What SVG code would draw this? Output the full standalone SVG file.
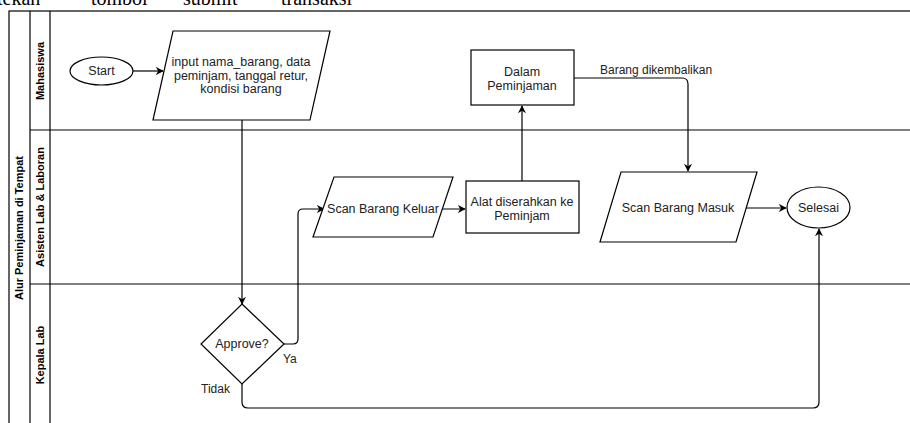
<svg xmlns="http://www.w3.org/2000/svg" width="910" height="423" viewBox="0 0 910 423">
  <style>
    .shape { fill: #fff; stroke: #000; stroke-width: 1.2; }
    .lane { fill: none; stroke: #000; stroke-width: 1.2; }
    .edge { fill: none; stroke: #000; stroke-width: 1.2; }
    .txt { font-family: "Liberation Sans", Arial, sans-serif; font-size: 12.5px; fill: #222; text-anchor: middle; }
    .lbl { font-family: "Liberation Sans", Arial, sans-serif; font-size: 12px; fill: #222; }
    .head { font-family: "Liberation Sans", Arial, sans-serif; font-size: 11px; font-weight: bold; fill: #000; text-anchor: middle; }
    .body { font-family: "Liberation Serif", "Times New Roman", serif; font-size: 20px; fill: #000; }
  </style>
  <defs>
    <marker id="arrow" viewBox="0 0 10 10" refX="9" refY="5" markerWidth="8" markerHeight="8" markerUnits="userSpaceOnUse" orient="auto">
      <path d="M0,0 L10,5 L0,10 L3,5 Z" fill="#000"/>
    </marker>
  </defs>

  <rect width="910" height="423" fill="#fff"/>

  <!-- running text line above the figure -->
  <text class="body" x="-3" y="5">tekan</text>
  <text class="body" x="91" y="5">tombol</text>
  <text class="body" x="183" y="5">submit</text>
  <text class="body" x="281" y="5">transaksi</text>

  <!-- swimlane frame -->
  <g id="pool">
    <rect class="lane" x="9" y="11" width="910" height="440"/>
    <line class="lane" x1="30" y1="11" x2="30" y2="451"/>
    <line class="lane" x1="50" y1="11" x2="50" y2="451"/>
    <line class="lane" x1="30" y1="130" x2="910" y2="130"/>
    <line class="lane" x1="30" y1="284" x2="910" y2="284"/>
    <text class="head" transform="translate(23,228) rotate(-90)">Alur Peminjaman di Tempat</text>
    <text class="head" transform="translate(44,71) rotate(-90)">Mahasiswa</text>
    <text class="head" transform="translate(44,207) rotate(-90)">Asisten Lab &amp; Laboran</text>
    <text class="head" transform="translate(44,355) rotate(-90)">Kepala Lab</text>
  </g>

  <!-- connectors -->
  <g id="edges">
    <path class="edge" d="M133,71 H163" marker-end="url(#arrow)"/>
    <path class="edge" d="M242,120 V304" marker-end="url(#arrow)"/>
    <path class="edge" d="M284,344 H293 Q298,344 298,339 V214 Q298,209 303,209 H324" marker-end="url(#arrow)"/>
    <path class="edge" d="M432,209 H465" marker-end="url(#arrow)"/>
    <path class="edge" d="M522,181 V106" marker-end="url(#arrow)"/>
    <path class="edge" d="M574,78 H682 Q688,78 688,84 V171" marker-end="url(#arrow)"/>
    <path class="edge" d="M746,208 H786" marker-end="url(#arrow)"/>
    <path class="edge" d="M242,384 V402 Q242,408 248,408 H813 Q819,408 819,402 V229" marker-end="url(#arrow)"/>
    <text class="lbl" x="283" y="363">Ya</text>
    <text class="lbl" x="201" y="393">Tidak</text>
    <text class="lbl" x="600" y="74">Barang dikembalikan</text>
  </g>

  <g id="start">
    <ellipse class="shape" cx="101.5" cy="71" rx="31.5" ry="14"/>
    <text class="txt" x="101.5" y="75">Start</text>
  </g>

  <g id="input-data">
    <polygon class="shape" points="173,31 330,31 310,120 153,120"/>
    <text class="txt" x="241" y="66">input nama_barang, data</text>
    <text class="txt" x="241" y="79.5">peminjam, tanggal retur,</text>
    <text class="txt" x="241" y="93">kondisi barang</text>
  </g>

  <g id="approve">
    <polygon class="shape" points="242,304 284,344 242,384 201,344"/>
    <text class="txt" x="242" y="348">Approve?</text>
  </g>

  <g id="scan-keluar">
    <polygon class="shape" points="334,177 453,177 433,237 313,237"/>
    <text class="txt" x="383" y="213">Scan Barang Keluar</text>
  </g>

  <g id="alat-diserahkan">
    <rect class="shape" x="466" y="181" width="113" height="52"/>
    <text class="txt" x="522" y="206">Alat diserahkan ke</text>
    <text class="txt" x="522" y="220">Peminjam</text>
  </g>

  <g id="dalam-peminjaman">
    <rect class="shape" x="471" y="50" width="103" height="55"/>
    <text class="txt" x="522" y="76">Dalam</text>
    <text class="txt" x="522" y="90">Peminjaman</text>
  </g>

  <g id="scan-masuk">
    <polygon class="shape" points="621,172 757,172 736,242 600,242"/>
    <text class="txt" x="678" y="212">Scan Barang Masuk</text>
  </g>

  <g id="selesai">
    <ellipse class="shape" cx="818.5" cy="207.5" rx="31.5" ry="20.5"/>
    <text class="txt" x="818.5" y="212">Selesai</text>
  </g>
</svg>
